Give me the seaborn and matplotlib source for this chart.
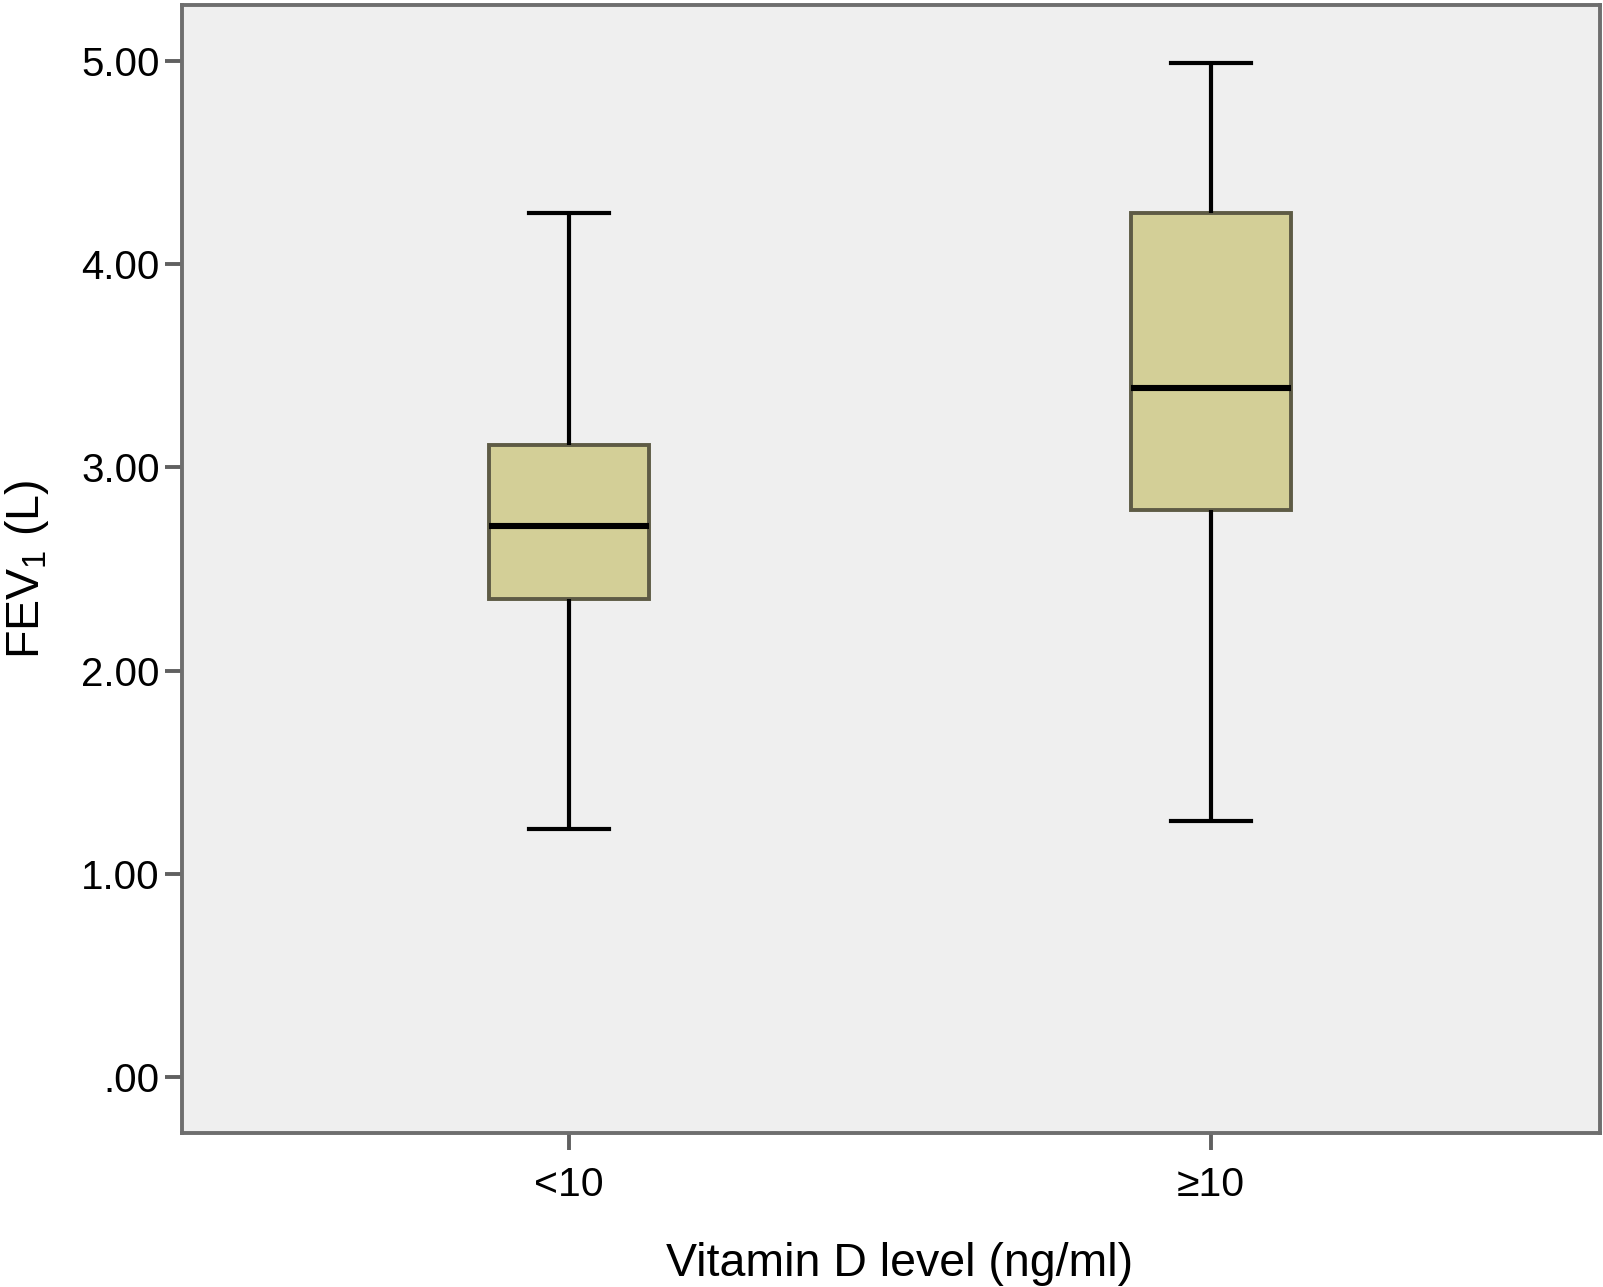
import numpy as np
import pandas as pd
import matplotlib
matplotlib.use("Agg")
import matplotlib.pyplot as plt
import seaborn as sns

# Five-number summaries: min, Q1, median, Q3, max
categories = ["<10", "\u226510"]
low_vitd = [1.22, 2.35, 2.71, 3.11, 4.25]
high_vitd = [1.26, 2.79, 3.39, 4.25, 4.99]
y_ticks = [0, 1, 2, 3, 4, 5]
y_tick_labels = [".00", "1.00", "2.00", "3.00", "4.00", "5.00"]

df = pd.DataFrame({
    "group": [categories[0]] * len(low_vitd) + [categories[1]] * len(high_vitd),
    "fev1": low_vitd + high_vitd,
})

plt.rcParams["font.family"] = ["Liberation Sans", "DejaVu Sans"]
plt.rcParams["mathtext.fontset"] = "custom"
plt.rcParams["mathtext.rm"] = "Liberation Sans"

fig = plt.figure(figsize=(16.03, 12.87), dpi=100)
ax = fig.add_axes([0.1135, 0.1197, 0.8845, 0.8764])
ax.set_facecolor("#EFEFEF")

box_fill = "#D3CF97"
box_edge = "#5E5B45"
sns.boxplot(
    data=df, x="group", y="fev1", order=categories, ax=ax,
    whis=np.inf, width=0.25, color=box_fill, saturation=1,
    linecolor="black", linewidth=2.8,
    boxprops=dict(facecolor=box_fill, edgecolor=box_edge, linewidth=2.8),
    whiskerprops=dict(color="black", linewidth=3.0),
    capprops=dict(color="black", linewidth=3.0),
    medianprops=dict(color="black", linewidth=4.4),
)

ax.set_xlim(-0.603, 1.606)
ax.set_ylim(-0.276, 5.276)
ax.set_yticks(y_ticks)
ax.set_yticklabels(y_tick_labels)

for side in ["left", "right", "top", "bottom"]:
    ax.spines[side].set_color("#6E6E6E")
    ax.spines[side].set_linewidth(2.8)

ax.tick_params(axis="both", which="major", length=12, width=2.8, color="#606060",
               labelcolor="black")
ax.tick_params(axis="y", pad=4, labelsize=29)
ax.tick_params(axis="x", pad=12, labelsize=29.5)

ax.set_xlabel("Vitamin D level (ng/ml)", fontsize=33.5, color="black")
ax.set_ylabel(r"FEV$_\mathregular{1}$ (L)", fontsize=33.5, color="black")
ax.xaxis.set_label_coords(0.506, -0.097)
ax.yaxis.set_label_coords(-0.092, 0.5)
ax.grid(False)

fig.savefig("out.png", dpi=100, facecolor="white")
